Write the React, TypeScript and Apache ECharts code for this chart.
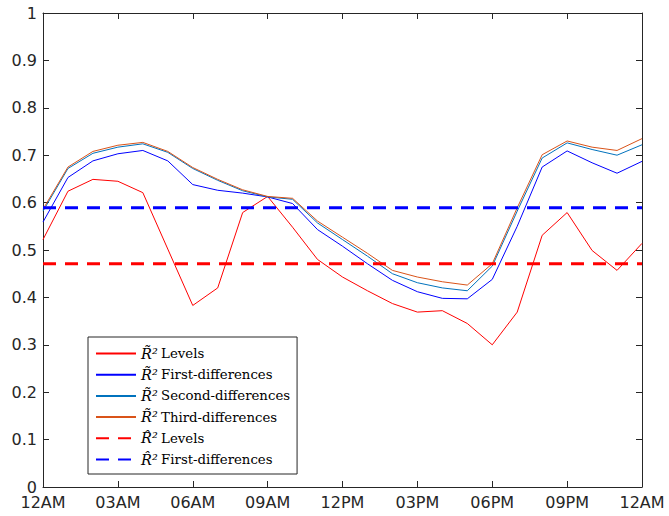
import React, { useEffect, useRef } from "react";
import * as echarts from "echarts";

const hours = [0, 1, 2, 3, 4, 5, 6, 7, 8, 9, 10, 11, 12, 13, 14, 15, 16, 17, 18, 19, 20, 21, 22, 23, 24];
const tickLabels = ["12AM", "03AM", "06AM", "09AM", "12PM", "03PM", "06PM", "09PM", "12AM"];

const tildeLevels = [0.522, 0.624, 0.649, 0.645, 0.621, 0.502, 0.383, 0.420, 0.579, 0.613, 0.548, 0.480, 0.443, 0.414, 0.387, 0.369, 0.372, 0.345, 0.300, 0.369, 0.531, 0.579, 0.499, 0.457, 0.514];
const tildeFirst = [0.559, 0.653, 0.688, 0.703, 0.710, 0.688, 0.638, 0.626, 0.620, 0.612, 0.598, 0.543, 0.508, 0.471, 0.436, 0.412, 0.398, 0.397, 0.438, 0.550, 0.675, 0.709, 0.684, 0.662, 0.687];
const tildeSecond = [0.582, 0.672, 0.704, 0.717, 0.724, 0.706, 0.672, 0.647, 0.625, 0.612, 0.607, 0.557, 0.522, 0.487, 0.450, 0.431, 0.420, 0.414, 0.466, 0.582, 0.694, 0.726, 0.712, 0.700, 0.722];
const tildeThird = [0.586, 0.675, 0.708, 0.721, 0.727, 0.708, 0.674, 0.649, 0.627, 0.613, 0.609, 0.561, 0.527, 0.493, 0.457, 0.443, 0.433, 0.426, 0.471, 0.589, 0.701, 0.730, 0.717, 0.710, 0.735];
const hatLevels = 0.471;
const hatFirst = 0.589;

const TILDE = "R\u0303\u00B2";
const HAT = "R\u0302\u00B2";

const names = [
  `${TILDE} Levels`,
  `${TILDE} First-differences`,
  `${TILDE} Second-differences`,
  `${TILDE} Third-differences`,
  `${HAT} Levels`,
  `${HAT} First-differences`,
];

const AX = "#262626";

export default function App() {
  const ref = useRef<HTMLDivElement>(null);
  useEffect(() => {
    if (!ref.current) return;
    const chart = echarts.init(ref.current, undefined, { renderer: "svg" });
    const pair = (arr: number[]) => hours.map((h, i) => [h, arr[i]]);
    const flat = (v: number) => [[hours[0], v], [hours[hours.length - 1], v]];
    const solid = (name: string, data: number[][], color: string) => ({
      name,
      type: "line",
      data,
      symbol: "none",
      lineStyle: { color, width: 1 },
      itemStyle: { color },
      xAxisIndex: 0,
      yAxisIndex: 0,
    });
    const dashed = (name: string, data: number[][], color: string) => ({
      name,
      type: "line",
      data,
      symbol: "none",
      lineStyle: { color, width: 3, type: [13, 9] },
      itemStyle: { color },
      xAxisIndex: 0,
      yAxisIndex: 0,
    });
    const axisCommon = {
      axisLine: { show: true, onZero: false, lineStyle: { color: AX, width: 1 } },
      axisTick: { show: true, inside: true, length: 6, lineStyle: { color: AX } },
      splitLine: { show: false },
    };
    chart.setOption({
      animation: false,
      backgroundColor: "#ffffff",
      grid: { left: 43, right: 27, top: 13, bottom: 29, containLabel: false },
      xAxis: [
        {
          type: "value",
          position: "bottom",
          min: 0,
          max: 24,
          interval: 3,
          ...axisCommon,
          axisLabel: {
            color: AX,
            fontFamily: "DejaVu Sans",
            fontSize: 16,
            lineHeight: 12,
            margin: 9,
            formatter: (v: number) => tickLabels[Math.round(v / 3)] ?? "",
          },
        },
        {
          type: "value",
          position: "top",
          min: 0,
          max: 24,
          interval: 3,
          ...axisCommon,
          axisLabel: { show: false },
        },
      ],
      yAxis: [
        {
          type: "value",
          position: "left",
          min: 0,
          max: 1,
          interval: 0.1,
          ...axisCommon,
          axisLabel: {
            color: AX,
            fontFamily: "DejaVu Sans",
            fontSize: 16,
            lineHeight: 12,
            margin: 6,
            formatter: (v: number) => String(Math.round(v * 10) / 10),
          },
        },
        {
          type: "value",
          position: "right",
          min: 0,
          max: 1,
          interval: 0.1,
          ...axisCommon,
          axisLabel: { show: false },
        },
      ],
      legend: {
        orient: "vertical",
        left: 88,
        top: 337,
        itemWidth: 40,
        itemHeight: 14,
        itemGap: 6.2,
        padding: [9, 7, 7, 7],
        backgroundColor: "#ffffff",
        borderColor: AX,
        borderWidth: 1,
        borderRadius: 0,
        itemStyle: { opacity: 0, borderWidth: 0 },
        data: names,
        formatter: (name: string) => `{r|${name.slice(0, 3)}} {t|${name.slice(4)}}`,
        textStyle: {
          color: "#000000",
          lineHeight: 14,
          rich: {
            r: { fontFamily: "DejaVu Serif", fontStyle: "italic", fontSize: 14.5, lineHeight: 14, color: "#000" },
            t: { fontFamily: "DejaVu Serif", fontSize: 13.3, lineHeight: 14, color: "#000" },
          },
        },
      },
      series: [
        solid(names[0], pair(tildeLevels), "#FF0000"),
        solid(names[1], pair(tildeFirst), "#0000FF"),
        solid(names[2], pair(tildeSecond), "#0072BD"),
        solid(names[3], pair(tildeThird), "#D95319"),
        dashed(names[4], flat(hatLevels), "#FF0000"),
        dashed(names[5], flat(hatFirst), "#0000FF"),
      ],
    });
    return () => chart.dispose();
  }, []);
  return (
    <div
      ref={ref}
      style={{ position: "fixed", left: 0, top: 0, width: 669, height: 516 }}
    />
  );
}
